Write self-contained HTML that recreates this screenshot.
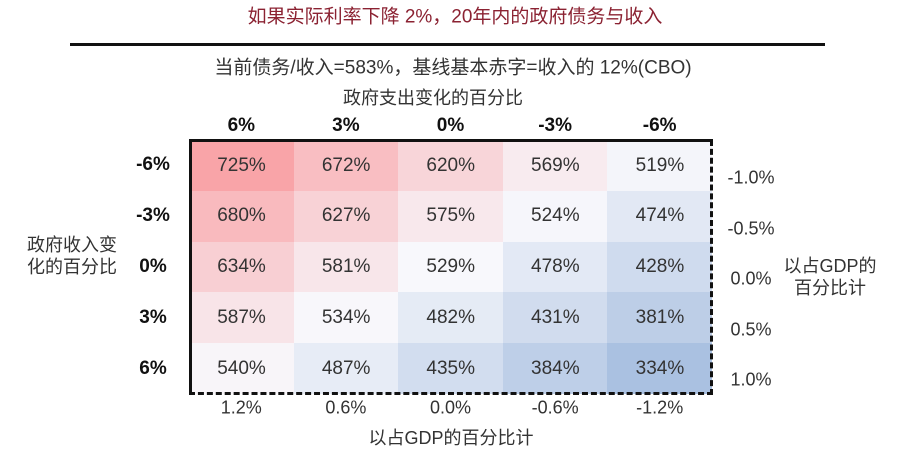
<!DOCTYPE html>
<html><head><meta charset="utf-8"><style>
body{margin:0;width:899px;height:468px;background:#fff;position:relative;font-family:"Liberation Sans","Noto Sans CJK SC",sans-serif;color:#222;overflow:hidden}
.t{position:absolute;white-space:nowrap;transform:translate(-50%,-50%)}
.cell{position:absolute;display:flex;align-items:center;justify-content:center;font-size:19px;color:#333}
</style></head><body>
<div class="t" style="left:455px;top:15px;color:#8b2232;font-size:19px">如果实际利率下降 2%，20年内的政府债务与收入</div>
<div style="position:absolute;left:70px;top:43px;width:755px;height:3px;background:#111"></div>
<div class="t" style="left:453px;top:66px;font-size:19px;color:#333">当前债务/收入=583%，基线基本赤字=收入的 12%(CBO)</div>
<div class="t" style="left:433px;top:97px;font-size:18px;color:#333">政府支出变化的百分比</div>
<div id="g"></div>
<div style="position:absolute;left:189px;top:139px;width:524px;height:3px;background:#111"></div>
<div style="position:absolute;left:189px;top:139px;width:3px;height:256px;background:#111"></div>
<div style="position:absolute;left:710px;top:140px;width:0;height:255px;border-left:3px dashed #111"></div>
<div style="position:absolute;left:189px;top:392px;width:524px;height:0;border-top:3px dashed #111"></div>
<div class="t" style="left:72px;top:256px;font-size:18px;color:#333;text-align:center;line-height:22px">政府收入变<br>化的百分比</div>
<div class="t" style="left:830px;top:277px;font-size:18px;color:#333;text-align:center;line-height:22px">以占GDP的<br>百分比计</div>
<div class="t" style="left:451px;top:437px;font-size:18px;color:#333">以占GDP的百分比计</div>
<script>
var vals=[[725,672,620,569,519],[680,627,575,524,474],[634,581,529,478,428],[587,534,482,431,381],[540,487,435,384,334]];
var cols=["6%","3%","0%","-3%","-6%"],rows=["-6%","-3%","0%","3%","6%"],bot=["1.2%","0.6%","0.0%","-0.6%","-1.2%"],rt=["-1.0%","-0.5%","0.0%","0.5%","1.0%"];
var red=[249,164,168],wh=[248,248,252],bl=[170,193,225];
function col(v){var a,b,t;if(v>=530){t=Math.pow(Math.min(1,(v-530)/195),1.15);a=wh;b=red}else{t=Math.min(1,(530-v)/196);a=wh;b=bl}
return "rgb("+a.map(function(x,i){return Math.round(x+(b[i]-x)*t)}).join(",")+")"}
var h="",x0=189,y0=140,w=104.6,hh=50.8;
for(var r=0;r<5;r++)for(var c=0;c<5;c++){h+='<div class="cell" style="left:'+(x0+c*w)+'px;top:'+(y0+r*hh)+'px;width:'+(w+0.5)+'px;height:'+(hh+0.5)+'px;background:'+col(vals[r][c])+'">'+vals[r][c]+'%</div>';}
for(var i=0;i<5;i++){
h+='<div class="t" style="left:'+(x0+w*(i+.5))+'px;top:126px;font-size:19px;font-weight:bold;color:#111">'+cols[i]+'</div>';
h+='<div class="t" style="left:153px;top:'+(y0+hh*(i+.5))+'px;font-size:19px;font-weight:bold;color:#111">'+rows[i]+'</div>';
h+='<div class="t" style="left:'+(x0+w*(i+.5))+'px;top:408px;font-size:18px;color:#333">'+bot[i]+'</div>';
h+='<div class="t" style="left:751px;top:'+(178+i*50.5)+'px;font-size:18px;color:#333">'+rt[i]+'</div>';}
document.getElementById("g").innerHTML=h;
</script>
</body></html>
